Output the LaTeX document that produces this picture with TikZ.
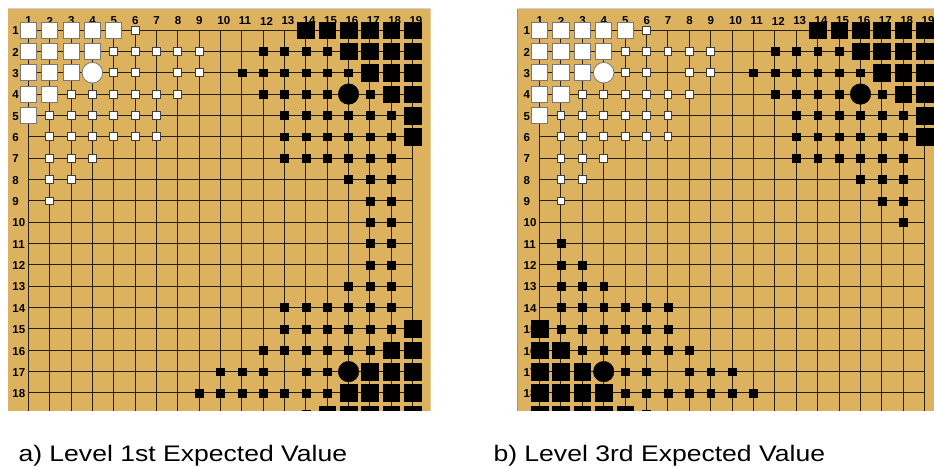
\documentclass[tikz,border=0pt]{standalone}
\usepackage{fontspec}
\setmainfont{Liberation Sans}
\usetikzlibrary{positioning}

\definecolor{boardtan}{RGB}{221,178,94}
\definecolor{gridink}{RGB}{40,30,14}
\definecolor{wedge}{RGB}{120,120,120}

% one kind of marker at a list of (column/row) points
\newcommand{\sqmarks}[3]{%
  \foreach \col/\row in {#3}
    \filldraw[#1] (\col,\row) ++(-#2,-#2) rectangle ++(2*#2,2*#2);}
\newcommand{\stone}[3]{\filldraw[#1] (#2,#3) circle (10.3pt);}

% grid, coordinates and the white corner shared by both boards
\newcommand{\boardbase}{%
  \foreach \k in {1,...,19} {
    \draw[gridln] (\k,1) -- (\k,19.6);
    \draw[gridln] (1,\k) -- (19,\k);
  }
  \foreach \k in {1,...,19} {
    \node[coordlbl, anchor=west] at ([xshift=-3.2pt, yshift=9pt]\k,1) {\k};
    \node[coordlbl, anchor=west] at ([xshift=-16pt, yshift=-0.8pt]1,\k) {\k};
  }
  % white territory
  \sqmarks{wbig}{8.1pt}{1/1,2/1,3/1,4/1,5/1,1/2,2/2,3/2,4/2,1/3,2/3,3/3,1/4,2/4,1/5}
  \sqmarks{wsmall}{3.9pt}{6/1,5/2,6/2,7/2,8/2,9/2,5/3,6/3,8/3,9/3,
    3/4,4/4,5/4,6/4,7/4,8/4,2/5,3/5,4/5,5/5,6/5,7/5,2/6,3/6,4/6,5/6,6/6,7/6,
    2/7,3/7,4/7,2/8,3/8,2/9}
  \stone{wstone}{4}{3}
  % black upper right
  \sqmarks{bbig}{8.3pt}{14/1,15/1,16/1,17/1,18/1,19/1,16/2,17/2,18/2,19/2,
    17/3,18/3,19/3,18/4,19/4,19/5,19/6}
  \sqmarks{bsmall}{3.9pt}{12/2,13/2,14/2,15/2,11/3,12/3,13/3,14/3,15/3,16/3,
    12/4,13/4,14/4,15/4,17/4,13/5,14/5,15/5,16/5,17/5,18/5,
    13/6,14/6,15/6,16/6,17/6,18/6,13/7,14/7,15/7,16/7,17/7,18/7,
    16/8,17/8,18/8,17/9,18/9}
  \stone{bstone}{16}{4}
}

\begin{document}
\begin{tikzpicture}[x=1pt, y=-1pt,
    gridln/.style={draw=gridink, line width=1pt},
    coordlbl/.style={inner sep=0pt, font=\fontsize{11.5}{12}\selectfont\bfseries},
    wbig/.style={fill=white, draw=wedge, line width=0.8pt},
    wsmall/.style={fill=white, draw=black!75, line width=0.8pt},
    wstone/.style={fill=white, draw=wedge, line width=0.8pt},
    bbig/.style={fill=black, draw=black, line width=0.4pt},
    bsmall/.style={fill=black, draw=black, line width=0.4pt},
    bstone/.style={fill=black, draw=black, line width=0.4pt},
    caption/.style={inner sep=0pt, anchor=base west, font=\fontsize{22.5}{26}\selectfont}]
  \useasboundingbox (0,0) rectangle (934,466);

  % Board a) level 1
  \begin{scope}
    \clip (8,8.5) rectangle (430.7,410.7);
    \fill[boardtan] (8,8.5) rectangle (430.7,410.7);
    \draw[gray!35, line width=1.2pt] (8,8.6) -- (430.7,8.6);
    \begin{scope}[shift={(6.95,8.65)}, x=21.35pt, y=-21.35pt]
      \boardbase
      \sqmarks{bsmall}{3.9pt}{17/10,18/10,17/11,18/11,17/12,18/12,16/13,17/13,18/13,
        13/14,14/14,15/14,16/14,17/14,18/14,13/15,14/15,15/15,16/15,17/15,18/15,
        12/16,13/16,14/16,15/16,16/16,17/16,10/17,11/17,12/17,14/17,15/17,
        9/18,10/18,11/18,12/18,13/18,14/18,15/18,14/19}
      \sqmarks{bbig}{8.3pt}{19/15,18/16,19/16,17/17,18/17,19/17,
        16/18,17/18,18/18,19/18,15/19,16/19,17/19,18/19,19/19}
      \stone{bstone}{16}{17}
    \end{scope}
  \end{scope}

  % Board b) level 3
  \begin{scope}
    \clip (517.3,8.5) rectangle (934,410.7);
    \fill[boardtan] (517.3,8.5) rectangle (934,410.7);
    \draw[gray!35, line width=1.2pt] (517.3,8.6) -- (934,8.6);
    \draw[gridink!60, line width=1pt] (517.8,8.5) -- (517.8,410.7);
    \begin{scope}[shift={(518.1,8.65)}, x=21.4pt, y=-21.35pt]
      \boardbase
      \sqmarks{bsmall}{3.9pt}{18/10,2/11,2/12,3/12,2/13,3/13,4/13,
        2/14,3/14,4/14,5/14,6/14,7/14,2/15,3/15,4/15,5/15,6/15,7/15,
        3/16,4/16,5/16,6/16,7/16,8/16,5/17,6/17,8/17,9/17,10/17,
        5/18,6/18,7/18,8/18,9/18,10/18,11/18,6/19}
      \sqmarks{bbig}{8.3pt}{1/15,1/16,2/16,1/17,2/17,3/17,
        1/18,2/18,3/18,4/18,1/19,2/19,3/19,4/19,5/19}
      \stone{bstone}{4}{17}
    \end{scope}
  \end{scope}

  % Captions
  \node[caption] (capa) at (18.3,461) {\scalebox{1.18}[1]{a) Level 1st Expected Value}};
  \node[caption] (capb) at (493.3,461) {\scalebox{1.18}[1]{b) Level 3rd Expected Value}};
\end{tikzpicture}
\end{document}
